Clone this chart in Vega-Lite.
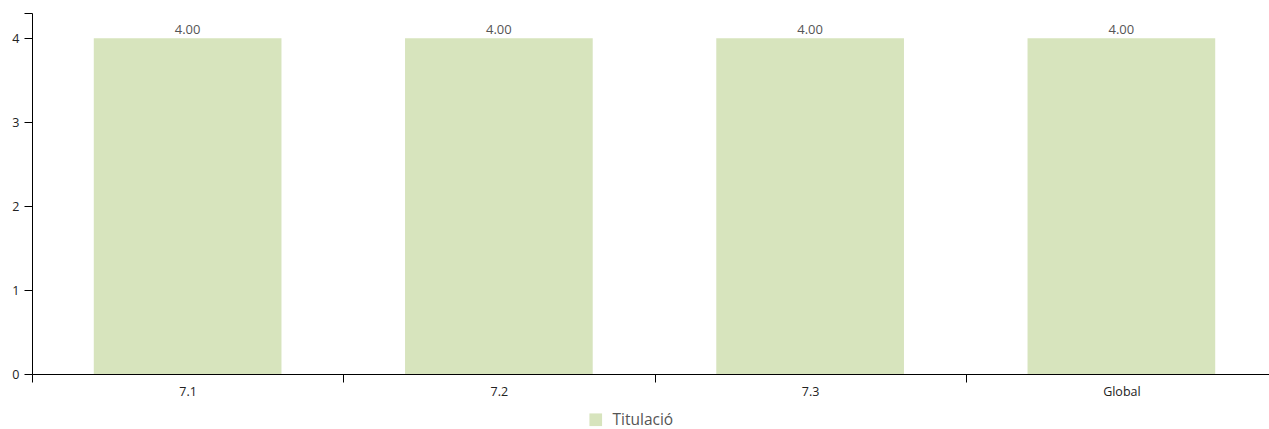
{
  "$schema": "https://vega.github.io/schema/vega-lite/v6.json",
  "width": 1245,
  "height": 361,
  "autosize": {"type": "none"},
  "padding": {"left": 32, "top": 13, "right": 0, "bottom": 55},
  "background": "white",
  "config": {
    "view": {"stroke": null},
    "font": "Open Sans"
  },
  "data": {
    "values": [
      {"item": "7.1", "value": 4, "serie": "Titulació"},
      {"item": "7.2", "value": 4, "serie": "Titulació"},
      {"item": "7.3", "value": 4, "serie": "Titulació"},
      {"item": "Global", "value": 4, "serie": "Titulació"}
    ]
  },
  "encoding": {
    "x": {
      "field": "item",
      "type": "nominal",
      "sort": null,
      "scale": {"paddingInner": 0, "paddingOuter": 0},
      "axis": {
        "title": null,
        "labelAngle": 0,
        "tickBand": "extent",
        "domainColor": "#000",
        "tickColor": "#000",
        "tickSize": 8,
        "labelPadding": 3,
        "labelFont": "Open Sans",
        "labelFontSize": 12.5,
        "labelColor": "#222"
      }
    },
    "y": {
      "field": "value",
      "type": "quantitative",
      "scale": {"domain": [0, 4.3], "nice": false},
      "axis": {
        "title": null,
        "values": [0, 1, 2, 3, 4, 4.3],
        "labelExpr": "datum.value > 4.1 ? '' : datum.label",
        "grid": false,
        "domainColor": "#000",
        "tickColor": "#000",
        "tickSize": 8,
        "labelPadding": 5,
        "labelFont": "Open Sans",
        "labelFontSize": 12.5,
        "labelColor": "#222"
      }
    }
  },
  "layer": [
    {
      "mark": {"type": "bar", "width": {"band": 0.603}},
      "encoding": {
        "color": {
          "field": "serie",
          "type": "nominal",
          "scale": {"range": ["#d7e4bd"]},
          "legend": {
            "title": null,
            "orient": "none",
            "legendX": 556,
            "legendY": 399,
            "symbolType": "square",
            "symbolSize": 160,
            "symbolStrokeWidth": 0,
            "labelFont": "Open Sans",
            "labelFontSize": 15.5,
            "labelColor": "#555",
            "labelOffset": 9
          }
        }
      }
    },
    {
      "mark": {"type": "text", "baseline": "bottom", "dy": -1, "font": "Open Sans", "fontSize": 13, "color": "#555"},
      "encoding": {
        "text": {"field": "value", "type": "quantitative", "format": ".2f"}
      }
    }
  ]
}
